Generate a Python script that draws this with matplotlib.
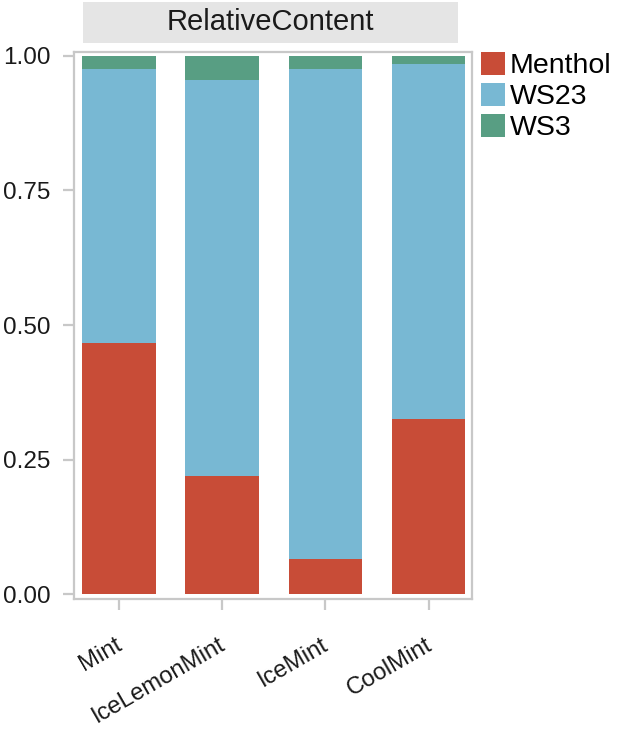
import matplotlib
matplotlib.use("Agg")
import matplotlib.pyplot as plt
from matplotlib.patches import Patch, Rectangle
from matplotlib.transforms import ScaledTranslation
import numpy as np

plt.rcParams['font.family'] = ['Liberation Sans', 'DejaVu Sans']

categories = ["Mint", "IceLemonMint", "IceMint", "CoolMint"]
series_names = ["Menthol", "WS23", "WS3"]
menthol = [0.467, 0.220, 0.065, 0.325]
ws23 = [0.508, 0.734, 0.910, 0.659]
ws3 = [0.025, 0.046, 0.025, 0.016]
colors = ["#C84C37", "#78B8D3", "#589E83"]
yticks = [0.00, 0.25, 0.50, 0.75, 1.00]
ytick_labels = ["0.00", "0.25", "0.50", "0.75", "1.00"]
strip_title = "RelativeContent"

W, H = 618, 729
fig = plt.figure(figsize=(W / 100, H / 100), dpi=100)
ax = fig.add_axes([74 / W, 1 - 599 / H, (472 - 74) / W, (599 - 52) / H])

x = np.arange(len(categories))
bottom = np.zeros(len(categories))
for vals, col, name in zip([menthol, ws23, ws3], colors, series_names):
    ax.bar(x, vals, width=0.713, bottom=bottom, color=col, label=name, linewidth=0)
    bottom += np.array(vals)

ax.set_xlim(-0.435, 3.42)
ax.set_ylim(-0.0087, 1.0069)
ax.set_yticks(yticks)
ax.set_yticklabels(ytick_labels)
ax.set_xticks(x)
ax.set_xticklabels(categories, rotation=30, ha='right', va='top', rotation_mode='anchor')

gray = "#c8c8c8"
for sp in ax.spines.values():
    sp.set_color(gray)
    sp.set_linewidth(1.6)
ax.tick_params(axis='both', colors=gray, width=1.6, length=8, labelcolor='#1a1a1a')
ax.tick_params(axis='y', pad=9, labelsize=17.5)
ax.tick_params(axis='x', pad=17, labelsize=17.2)
shift = ScaledTranslation(-4 / 100, 0, fig.dpi_scale_trans)
for lbl in ax.get_xticklabels():
    lbl.set_transform(lbl.get_transform() + shift)

# facet strip
sx0, sx1, sy0, sy1 = 82.7, 457.7, 2, 42.7
strip = Rectangle((sx0 / W, 1 - sy1 / H), (sx1 - sx0) / W, (sy1 - sy0) / H,
                  transform=fig.transFigure, facecolor="#e5e5e5", edgecolor='none')
fig.patches.append(strip)
fig.text((sx0 + sx1) / 2 / W, 1 - (sy0 + sy1) / 2 / H, strip_title, ha='center', va='center',
         fontsize=21, color='#1a1a1a')

handles = [Patch(facecolor=c, edgecolor='none') for c in colors]
fig.legend(handles, series_names, loc='upper left', bbox_to_anchor=(481 / W, 1 - 52 / H),
           frameon=False, fontsize=20.5, handlelength=0.84, handleheight=0.84,
           handletextpad=0.17, labelspacing=0.14, borderpad=0, borderaxespad=0)

fig.savefig("out.png", dpi=100, facecolor='white')
